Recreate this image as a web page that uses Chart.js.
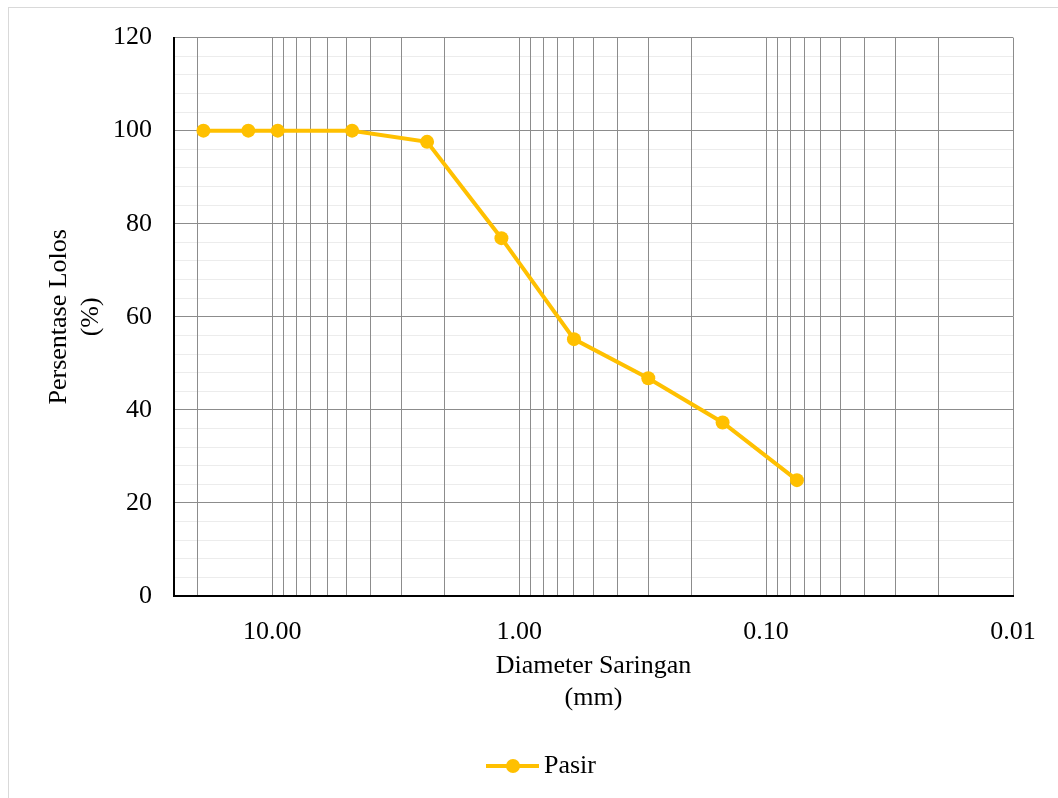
<!DOCTYPE html>
<html>
<head>
<meta charset="utf-8">
<script src="https://cdn.jsdelivr.net/npm/chart.js@4.4.1/dist/chart.umd.min.js"></script>
<style>
  html, body { margin: 0; padding: 0; background: #fff; }
  canvas { display: block; }
</style>
</head>
<body>
<canvas id="myChart" width="1058" height="798"></canvas>
<script>
// sieve analysis
const sieveSizes = [19, 12.5, 9.5, 4.75, 2.36, 1.18, 0.6, 0.3, 0.15, 0.075]
const percentPassing = [100, 100, 100, 100, 97.6, 76.9, 55.2, 46.8, 37.3, 24.9]
const seriesLabel = 'Pasir'
const xTitle = ['Diameter Saringan', '(mm)']
const yTitle = ['Persentase Lolos', '(%)']
const xMin = 0.01
const xMax = 25
const yMin = 0
const yMax = 120
const yStep = 4
const yLabelStep = 20

const font = 'Liberation Serif'
const gold = '#FFC000'

// 1..9 x 10^n between xMin and xMax, like the excel log grid
function logGridValues() {
  const vals = []
  for (let d = -2; d <= 1; d++) {
    for (let k = 1; k <= 9; k++) {
      const v = Number((k * Math.pow(10, d)).toPrecision(3))
      if (v >= xMin && v <= xMax) vals.push(v)
    }
  }
  return vals
}

function isDecade(v) {
  const l = Math.log10(v)
  return Math.abs(l - Math.round(l)) < 1e-9
}

// line + marker symbol for the legend
function legendSymbol() {
  const c = document.createElement('canvas')
  c.width = 132
  c.height = 16
  const g = c.getContext('2d')
  g.strokeStyle = gold
  g.lineWidth = 4
  g.beginPath()
  g.moveTo(78, 8)
  g.lineTo(131, 8)
  g.stroke()
  g.fillStyle = gold
  g.beginPath()
  g.arc(105, 8, 7, 0, Math.PI * 2)
  g.fill()
  return c
}

const chartFrame = {
  id: 'chartFrame',
  beforeDraw(chart) {
    const ctx = chart.ctx
    ctx.save()
    ctx.fillStyle = '#fff'
    ctx.fillRect(0, 0, chart.width, chart.height)
    ctx.strokeStyle = '#d9d9d9'
    ctx.lineWidth = 1
    ctx.strokeRect(8.5, 7.5, chart.width + 20, chart.height + 20)
    ctx.restore()
  }
}

const chart = document.getElementById('myChart').getContext('2d')
const myChart = new Chart(chart, {
  type: 'line',
  data: {
    datasets: [{
      label: seriesLabel,
      data: sieveSizes.map((x, i) => ({ x: x, y: percentPassing[i] })),
      borderColor: gold,
      backgroundColor: gold,
      borderWidth: 4,
      pointRadius: 7,
      pointHoverRadius: 7,
      pointBackgroundColor: gold,
      pointBorderColor: gold,
      pointBorderWidth: 0,
      tension: 0,
      clip: false
    }]
  },
  options: {
    responsive: false,
    devicePixelRatio: 1,
    animation: false,
    events: [],
    layout: { padding: { top: 36, right: 45, bottom: 9, left: 0 } },
    scales: {
      x: {
        type: 'logarithmic',
        reverse: true,
        min: xMin,
        max: xMax,
        afterBuildTicks: scale => {
          scale.ticks = logGridValues().map(v => ({ value: v }))
        },
        afterFit: scale => { scale.height = 147 },
        grid: { color: '#8c8c8c', lineWidth: 1, drawTicks: false, z: -1 },
        border: { color: '#000', width: 2 },
        ticks: {
          autoSkip: false,
          maxRotation: 0,
          padding: 21,
          color: '#000',
          font: { family: font, size: 26 },
          callback: v => isDecade(v) ? v.toFixed(2) : ''
        },
        title: {
          display: true,
          text: xTitle,
          color: '#000',
          font: { family: font, size: 26, lineHeight: 1.22 },
          padding: { top: 0, bottom: 29 }
        }
      },
      y: {
        type: 'linear',
        min: yMin,
        max: yMax,
        afterFit: scale => { scale.width = 174 },
        grid: {
          color: c => (c.tick && c.tick.value % yLabelStep === 0) ? '#8c8c8c' : '#ececec',
          lineWidth: 1,
          drawTicks: false,
          z: -2
        },
        border: { color: '#000', width: 2 },
        ticks: {
          stepSize: yStep,
          autoSkip: false,
          padding: 22,
          color: '#000',
          font: { family: font, size: 26 },
          callback: v => v % yLabelStep === 0 ? v : ''
        },
        title: {
          display: true,
          text: yTitle,
          color: '#000',
          font: { family: font, size: 26, lineHeight: 1.25 },
          padding: { top: 42.6, bottom: 0 }
        }
      }
    },
    plugins: {
      tooltip: { enabled: false },
      legend: {
        position: 'bottom',
        labels: {
          usePointStyle: true,
          pointStyle: legendSymbol(),
          pointStyleWidth: 114,
          padding: 10,
          color: '#000',
          font: { family: font, size: 26 }
        }
      }
    }
  },
  plugins: [chartFrame]
})
</script>
</body>
</html>
